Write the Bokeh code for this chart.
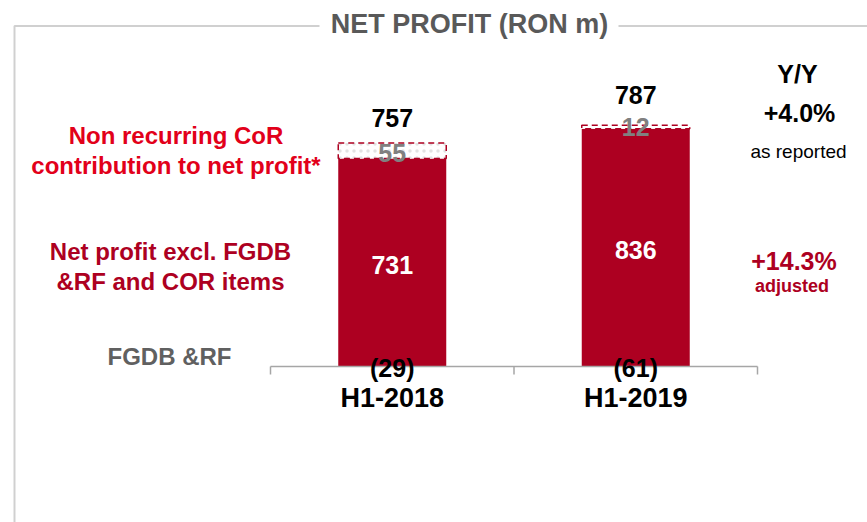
from bokeh.plotting import figure
from bokeh.models import Range1d
from bokeh.core.properties import value
from bokeh.embed import file_html
from bokeh.resources import INLINE

# ---- data ----
categories = ["H1-2018", "H1-2019"]
net_excl = [731, 836]          # Net profit excl. FGDB & RF and COR items
cor_contrib = [55, 12]         # Non recurring CoR contribution
fgdb_rf = [-29, -61]           # FGDB & RF
reported = [757, 787]          # reported net profit
yy_reported = "+4.0%"
yy_adjusted = "+14.3%"

# ---- geometry / style ----
W, H = 867, 522
XPX = 243.5          # px per category slot
X0_IMG = 270         # screen x of category boundary 0
K = 0.2845           # px per RON m
BASE_IMG = 366       # screen y of value 0
x_start = -X0_IMG / XPX
x_end = x_start + W / XPX
y_end = BASE_IMG / K
y_start = y_end - H / K


def ix(img_x):
    return x_start + img_x / XPX


def iy(img_y):
    return y_end - img_y / K


def px(n):
    return n / K


FONT = value("Liberation Sans")
RED = "#E2001A"
DARK = "#AD0021"
GREY_TXT = "#606060"
MID = "middle"

p = figure(width=W, height=H, output_backend="svg", toolbar_location=None,
           x_range=Range1d(x_start, x_end), y_range=Range1d(y_start, y_end),
           min_border=0, x_axis_location=None, y_axis_location=None,
           outline_line_color=None, background_fill_color="white")
p.grid.visible = False

# frame
p.line(x=[ix(14), ix(14), ix(319)], y=[iy(540), iy(25.5), iy(25.5)],
       line_color="#d0d0d0", line_width=2)
p.line(x=[ix(618), ix(880)], y=[iy(25.5), iy(25.5)],
       line_color="#d0d0d0", line_width=2)
p.text(x=[ix(469)], y=[iy(23)], text=["NET PROFIT (RON m)"], text_font=FONT,
       text_font_style="bold", text_font_size="27px", text_color="#595959",
       text_align="center", text_baseline=MID)

n = len(categories)
xc = [i + 0.5 for i in range(n)]
bw = 108 / XPX

# bars
p.vbar(x=xc, top=net_excl, bottom=0, width=bw, fill_color=DARK, line_color=None)
cor_top = [a + b for a, b in zip(net_excl, cor_contrib)]
p.vbar(x=xc, top=cor_top, bottom=net_excl, width=bw, fill_color="white",
       hatch_pattern="dot", hatch_color="#e2e2e2", hatch_scale=7, hatch_weight=1.5,
       line_color=DARK, line_dash="6 4", line_width=1.5)

# axis
p.segment(x0=[0], y0=[0], x1=[n], y1=[0], line_color="#a6a6a6", line_width=1.5)
p.segment(x0=list(range(n + 1)), y0=[0] * (n + 1), x1=list(range(n + 1)),
          y1=[-px(8)] * (n + 1), line_color="#a6a6a6", line_width=1.5)

# value labels
p.text(x=xc, y=[v / 2 - px(2) for v in net_excl], text=[str(v) for v in net_excl],
       text_font=FONT, text_font_style="bold", text_font_size="25px",
       text_color="white", text_align="center", text_baseline=MID)
cor_shift = [10.5, 1.5]   # px below stack top (text centre)
p.text(x=xc, y=[t - px(s) for t, s in zip(cor_top, cor_shift)],
       text=[str(v) for v in cor_contrib], text_font=FONT, text_font_style="bold",
       text_font_size="25px", text_color="#808080", text_align="center",
       text_baseline=MID)
total_gap = [25, 30]      # px above stack top (text centre)
p.text(x=xc, y=[t + px(g) for t, g in zip(cor_top, total_gap)],
       text=[str(v) for v in reported], text_font=FONT, text_font_style="bold",
       text_font_size="25px", text_color="black", text_align="center",
       text_baseline=MID)
p.text(x=xc, y=[-px(1)] * n, text=["(%d)" % abs(v) for v in fgdb_rf],
       text_font=FONT, text_font_style="bold", text_font_size="25px",
       text_color="black", text_align="center", text_baseline=MID)
p.text(x=xc, y=[-px(31.5)] * n, text=categories, text_font=FONT,
       text_font_style="bold", text_font_size="27px", text_color="black",
       text_align="center", text_baseline=MID)

# left legend labels
p.text(x=[ix(175.5)] * 2, y=[iy(135), iy(164.5)],
       text=["Non recurring CoR", "contribution to net profit*"], text_font=FONT,
       text_font_style="bold", text_font_size="24px", text_color=RED,
       text_align="center", text_baseline=MID)
p.text(x=[ix(170)] * 2, y=[iy(251), iy(280.5)],
       text=["Net profit excl. FGDB", "&RF and COR items"], text_font=FONT,
       text_font_style="bold", text_font_size="24px", text_color=DARK,
       text_align="center", text_baseline=MID)
p.text(x=[ix(169)], y=[iy(355.5)], text=["FGDB &RF"], text_font=FONT,
       text_font_style="bold", text_font_size="24px", text_color=GREY_TXT,
       text_align="center", text_baseline=MID)

# right Y/Y labels
p.text(x=[ix(797), ix(799)], y=[iy(73.5), iy(112)], text=["Y/Y", yy_reported],
       text_font=FONT, text_font_style="bold", text_font_size="25px",
       text_color="black", text_align="center", text_baseline=MID)
p.text(x=[ix(798)], y=[iy(151)], text=["as reported"], text_font=FONT,
       text_font_size="19px", text_color="black", text_align="center",
       text_baseline=MID)
p.text(x=[ix(793.5)], y=[iy(260)], text=[yy_adjusted], text_font=FONT,
       text_font_style="bold", text_font_size="25px", text_color=DARK,
       text_align="center", text_baseline=MID)
p.text(x=[ix(791.5)], y=[iy(285.5)], text=["adjusted"], text_font=FONT,
       text_font_style="bold", text_font_size="18px", text_color=DARK,
       text_align="center", text_baseline=MID)

open("out.html", "w").write(file_html(p, INLINE))
